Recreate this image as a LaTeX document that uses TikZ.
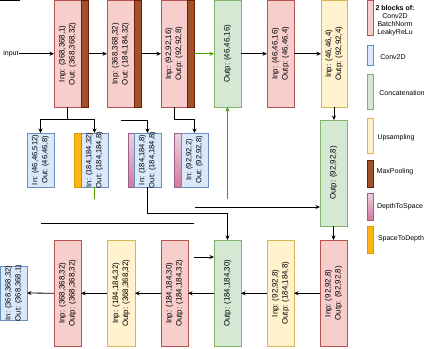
\documentclass[tikz,border=0pt]{standalone}
\usepackage{fontspec}
\setmainfont{Liberation Sans}
\usetikzlibrary{arrows.meta}
\definecolor{redF}{HTML}{F8CECC}\definecolor{redD}{HTML}{B85450}
\definecolor{brF}{HTML}{A0522D}\definecolor{brD}{HTML}{6D1F00}
\definecolor{bluF}{HTML}{DAE8FC}\definecolor{bluD}{HTML}{6C8EBF}
\definecolor{grnF}{HTML}{D5E8D4}\definecolor{grnD}{HTML}{82B366}
\definecolor{yelF}{HTML}{FFF2CC}\definecolor{yelD}{HTML}{D6B656}
\definecolor{pnkT}{HTML}{EAD3E1}\definecolor{pnkB}{HTML}{D5789F}\definecolor{pnkD}{HTML}{996185}
\definecolor{orF}{HTML}{FFB40F}\definecolor{orD}{HTML}{D79B00}
\definecolor{grnA}{HTML}{4D9900}
\tikzset{
  bx/.style={draw, line width=0.8pt, inner sep=0pt, outer sep=0pt, anchor=north west},
  redbox/.style={bx, fill=redF, draw=redD},
  brbox/.style={bx, fill=brF, draw=brD},
  blubox/.style={bx, fill=bluF, draw=bluD},
  grnbox/.style={bx, fill=grnF, draw=grnD},
  yelbox/.style={bx, fill=yelF, draw=yelD},
  pnkbox/.style={bx, top color=pnkT, bottom color=pnkB, draw=pnkD},
  orbox/.style={bx, fill=orF, draw=orD},
  tall/.style={minimum height=106.5pt},
  short/.style={minimum height=54pt},
  lbl/.style={rotate=90, align=center, font=\fontsize{7.9}{10}\selectfont, inner sep=0pt},
  slbl/.style={lbl, font=\fontsize{7.6}{10}\selectfont},
  leg/.style={align=center, font=\fontsize{7}{7.8}\selectfont, inner sep=0pt},
  arr/.style={draw=black, line width=0.8pt, -{Stealth[length=4.5pt,width=4pt]}},
  ln/.style={draw=black, line width=0.8pt},
  garr/.style={draw=grnA, line width=0.8pt, -{Stealth[length=4.5pt,width=4pt]}},
  gln/.style={draw=grnA, line width=0.8pt},
}
\begin{document}
\begin{tikzpicture}[x=1pt,y=-1pt]
\useasboundingbox (0,0) rectangle (428,348);
% ---------- top row ----------
\node[redbox, tall, minimum width=27pt] (b1) at (54,0.5) {};
\node[brbox, tall, minimum width=7pt] (b1s) at (81,0.5) {};
\node[redbox, tall, minimum width=27pt] (b2) at (107,0.5) {};
\node[brbox, tall, minimum width=7pt] (b2s) at (134,0.5) {};
\node[redbox, tall, minimum width=26pt] (b3) at (161,0.5) {};
\node[brbox, tall, minimum width=7pt] (b3s) at (187,0.5) {};
\node[grnbox, tall, minimum width=27pt] (c1) at (214,0.5) {};
\node[redbox, tall, minimum width=27pt] (r4) at (267,0.5) {};
\node[yelbox, tall, minimum width=26pt] (u5) at (321,0.5) {};
\node[lbl] at (b1.center) {Inp: (368,368,1)\\Out: (368,368,32)};
\node[lbl] at (b2.center) {Inp: (368,368,32)\\Out: (184,184,32)};
\node[lbl] at (b3.center) {Inp: (92,92,16)\\Outp: (92,92,8)};
\node[lbl] at (c1.center) {Outp: (46,46,16)};
\node[lbl] at (r4.center) {Inp: (46,46,16)\\Outp: (46,46,4)};
\node[lbl] at (u5.center) {Inp: (46,46,4)\\Outp: (92,92,4)};
\node[font=\fontsize{7}{8}\selectfont, inner sep=0pt] (inp) at (11,53.75) {input};
% ---------- middle row ----------
\node[blubox, short, minimum width=27pt] (m1) at (27,133) {};
\node[orbox, short, minimum width=7pt] (m2s) at (74,133) {};
\node[blubox, short, minimum width=27pt] (m2) at (81,133) {};
\node[pnkbox, short, minimum width=6pt] (m3s) at (128,133) {};
\node[blubox, short, minimum width=27pt] (m3) at (134,133) {};
\node[pnkbox, short, minimum width=7pt] (m4s) at (174,133) {};
\node[blubox, short, minimum width=27pt] (m4) at (181,133) {};
\node[grnbox, minimum height=106pt, minimum width=27pt] (cm) at (320,120) {};
\node[slbl] at (m1.center) {In: (46,46,512)\\Out: (46,46,8)};
\node[slbl] at (m2.center) {In: (184,184,32)\\Out: (184,184,8)};
\node[slbl] at (m3.center) {In: (184,184,8)\\Out: (184,184,8)};
\node[slbl] at (m4.center) {In: (92,92,2)\\Out: (92,92,8)};
\node[lbl] at (cm.center) {Outp: (92,92,8)};
% ---------- bottom row ----------
\node[redbox, tall, minimum width=27pt] (k1) at (320,240) {};
\node[yelbox, tall, minimum width=27pt] (k2) at (267,240) {};
\node[grnbox, tall, minimum width=27pt] (k3) at (214,240) {};
\node[redbox, tall, minimum width=27pt] (k4) at (161,240) {};
\node[yelbox, tall, minimum width=28pt] (k5) at (107,240) {};
\node[redbox, tall, minimum width=27pt] (k6) at (54,240) {};
\node[blubox, minimum height=54pt, minimum width=26.5pt] (k7) at (0.5,266) {};
\node[lbl] at (k1.center) {Inp: (92,92,8)\\Outp: (92,92,8)};
\node[lbl] at (k2.center) {Inp: (92,92,8)\\Outp: (184,184,8)};
\node[lbl] at (k3.center) {Outp: (184,184,30)};
\node[lbl] at (k4.center) {Inp: (184,184,30)\\Outp: (184,184,32)};
\node[lbl] at (k5.center) {Inp: (184,184,32)\\Outp: (368,368,32)};
\node[lbl] at (k6.center) {Inp: (368,368,32)\\Outp: (368,368,32)};
\node[slbl] at (k7.center) {In: (368,368,32)\\Out: (368,368,1)};
% ---------- legend ----------
\node[redbox, minimum width=6.5pt, minimum height=35pt] (l1) at (367,0.5) {};
\node[blubox, minimum width=6.5pt, minimum height=20pt] (l2) at (367,45) {};
\node[grnbox, minimum width=6.5pt, minimum height=35pt] (l3) at (367,74) {};
\node[yelbox, minimum width=6.5pt, minimum height=35pt] (l4) at (367,118) {};
\node[brbox, minimum width=6.5pt, minimum height=27pt] (l5) at (367,160) {};
\node[pnkbox, minimum width=6.5pt, minimum height=27pt] (l6) at (367,193) {};
\node[orbox, minimum width=6.5pt, minimum height=27pt] (l7) at (367,226) {};
\node[leg] (t1) at (395,20.5) {\textbf{2 blocks of:}\\Conv2D\\BatchNorm\\LeakyReLu};
\node[leg] (t2) at (393,57) {Conv2D};
\node[leg] (t3) at (402,93) {Concatenation};
\node[leg] (t4) at (396,138) {Upsampling};
\node[leg] (t5) at (395,172) {MaxPooling};
\node[leg] (t6) at (400,207) {DepthToSpace};
\node[leg] (t7) at (401,239) {SpaceToDepth};
% ---------- connectors ----------
\coordinate (tl1) at (0,0.8); \coordinate (tl2) at (20,0.8);
\draw[ln] (tl1) -- (tl2);
\draw[arr] (inp.east) -- (b1.west);
\draw[arr] (b1s.east) -- (b2.west);
\draw[arr] (b2s.east) -- (b3.west);
\draw[garr] (b3s.east) -- (c1.west);
\draw[arr] (c1.east) -- (r4.west);
\draw[arr] (r4.east) -- (u5.west);
\draw[arr] (u5.south) -- (u5.south |- cm.north);
\draw[arr] (cm.south) -- (k1.north);
\draw[arr] (k1.west) -- (k2.east);
\draw[arr] (k2.west) -- (k3.east);
\draw[arr] (k3.west) -- (k4.east);
\draw[arr] (k4.west) -- (k5.east);
\draw[arr] (k5.west) -- (k6.east);
\draw[arr] (k6.west) -- (k7.east);
% middle connectors
\draw[ln] (b1.south) -- ++(0,12) coordinate (j1);
\draw[ln] (m1.north |- j1) -- (m2.north |- j1);
\draw[arr] (m1.north |- j1) -- (m1.north);
\draw[arr] (m2.north |- j1) -- (m2.north);
\coordinate (f1) at (120.5,120);
\draw[arr] (f1) -- (m3.north |- f1) -- (m3.north);
\draw[arr] (b3.south) -- ++(0,12.5) -| (m4.north);
\draw[gln] (m2.south) -- ++(0,12);
\coordinate (g1) at (227.5,199);
\draw[garr] (g1) -- (c1.south);
\draw[arr] (m3.south) -- ++(0,26) -| (k3.north);
\coordinate (f2) at (194.5,207);
\draw[arr] (f2) -- (cm.west |- f2);
\coordinate (f3) at (41,223); \coordinate (f4) at (194,223);
\draw[ln] (f3) -- (f4);
\coordinate (f5) at (194,257);
\draw[arr] (f5) -- (k3.west |- f5);
\end{tikzpicture}
\end{document}
